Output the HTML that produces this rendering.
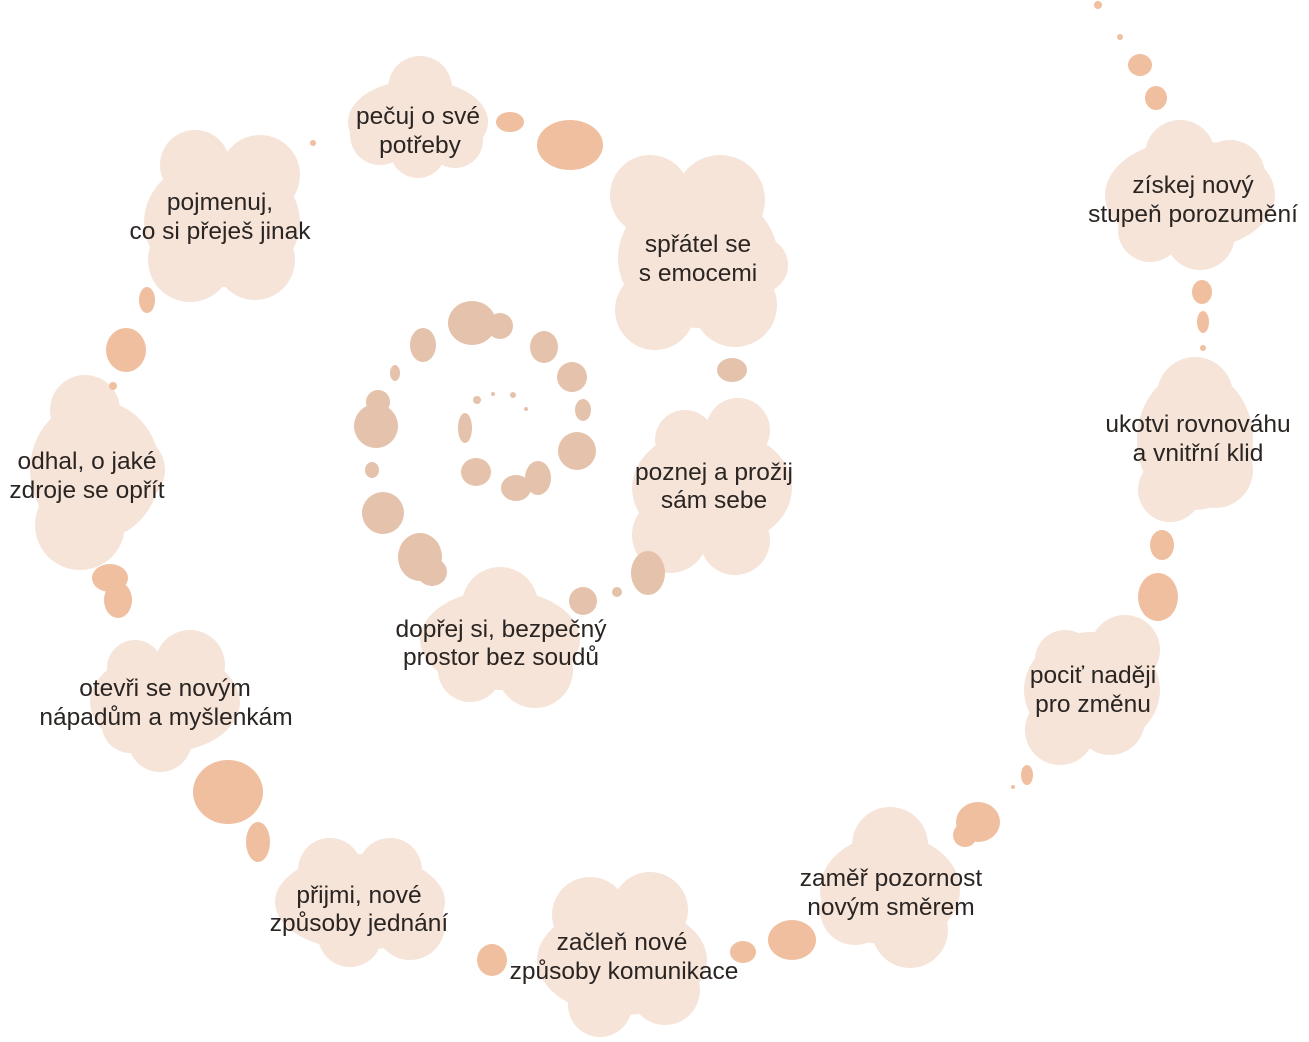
<!DOCTYPE html><html><head><meta charset="utf-8"><style>
body{margin:0;background:#fff;width:1309px;height:1042px;overflow:hidden}
svg{display:block}
text{font-family:"Liberation Sans",sans-serif;font-size:24.5px;fill:#2a2522;text-anchor:middle}
.c circle,.c ellipse{fill:#f6e4d9}
.b{fill:#efbf9f}
.g{fill:#e4c2ab}
</style></head><body>
<svg width="1309" height="1042" viewBox="0 0 1309 1042">
<g class="c">
<ellipse cx="418" cy="122" rx="70" ry="42"/><circle cx="420" cy="88" r="32"/><circle cx="380" cy="135" r="30"/><circle cx="455" cy="140" r="28"/><circle cx="418" cy="150" r="28"/>
<ellipse cx="222" cy="222" rx="78" ry="65"/><circle cx="195" cy="165" r="35"/><circle cx="260" cy="175" r="40"/><circle cx="190" cy="260" r="42"/><circle cx="255" cy="260" r="40"/>
<ellipse cx="698" cy="258" rx="80" ry="70"/><circle cx="650" cy="195" r="40"/><circle cx="720" cy="200" r="45"/><circle cx="655" cy="310" r="40"/><circle cx="735" cy="305" r="42"/><circle cx="760" cy="265" r="28"/>
<ellipse cx="712" cy="488" rx="80" ry="60"/><circle cx="738" cy="430" r="32"/><circle cx="685" cy="440" r="30"/><circle cx="670" cy="535" r="38"/><circle cx="735" cy="540" r="35"/>
<ellipse cx="95" cy="470" rx="65" ry="70"/><circle cx="85" cy="410" r="35"/><circle cx="80" cy="525" r="45"/><circle cx="130" cy="470" r="35"/>
<ellipse cx="500" cy="640" rx="80" ry="50"/><circle cx="500" cy="605" r="38"/><circle cx="470" cy="670" r="32"/><circle cx="535" cy="670" r="38"/>
<ellipse cx="165" cy="702" rx="75" ry="50"/><circle cx="190" cy="665" r="35"/><circle cx="135" cy="668" r="28"/><circle cx="160" cy="740" r="32"/><circle cx="130" cy="725" r="28"/>
<ellipse cx="360" cy="902" rx="85" ry="48"/><circle cx="330" cy="870" r="32"/><circle cx="390" cy="870" r="32"/><circle cx="350" cy="935" r="32"/><circle cx="410" cy="925" r="35"/>
<ellipse cx="622" cy="960" rx="85" ry="55"/><circle cx="590" cy="915" r="38"/><circle cx="650" cy="910" r="38"/><circle cx="600" cy="1005" r="32"/><circle cx="665" cy="990" r="35"/>
<ellipse cx="890" cy="890" rx="70" ry="55"/><circle cx="890" cy="845" r="38"/><circle cx="855" cy="910" r="35"/><circle cx="910" cy="930" r="38"/>
<ellipse cx="1092" cy="690" rx="68" ry="58"/><circle cx="1125" cy="650" r="35"/><circle cx="1065" cy="660" r="30"/><circle cx="1060" cy="730" r="35"/><circle cx="1110" cy="720" r="35"/>
<ellipse cx="1195" cy="440" rx="58" ry="70"/><circle cx="1195" cy="395" r="38"/><circle cx="1170" cy="490" r="32"/><circle cx="1215" cy="470" r="38"/>
<ellipse cx="1190" cy="195" rx="85" ry="55"/><circle cx="1180" cy="155" r="35"/><circle cx="1230" cy="175" r="35"/><circle cx="1150" cy="230" r="32"/><circle cx="1200" cy="235" r="35"/>
</g>
<g class="b">
<ellipse cx="510" cy="122" rx="14" ry="10"/><ellipse cx="570" cy="145" rx="33" ry="25"/>
<ellipse cx="126" cy="350" rx="20" ry="22"/><ellipse cx="147" cy="300" rx="8" ry="13"/><circle cx="113" cy="386" r="4"/>
<ellipse cx="110" cy="578" rx="18" ry="14"/><ellipse cx="118" cy="600" rx="14" ry="18"/>
<ellipse cx="228" cy="792" rx="35" ry="32"/><ellipse cx="258" cy="842" rx="12" ry="20"/>
<ellipse cx="492" cy="960" rx="15" ry="16"/><ellipse cx="743" cy="952" rx="13" ry="11"/><ellipse cx="792" cy="940" rx="24" ry="20"/>
<ellipse cx="978" cy="822" rx="22" ry="20"/><ellipse cx="965" cy="835" rx="12" ry="12"/><ellipse cx="1027" cy="775" rx="6" ry="10"/><circle cx="1013" cy="787" r="2"/>
<ellipse cx="1162" cy="545" rx="12" ry="15"/><ellipse cx="1158" cy="597" rx="20" ry="24"/>
<ellipse cx="1202" cy="292" rx="10" ry="12"/><ellipse cx="1203" cy="322" rx="6" ry="11"/><circle cx="1203" cy="348" r="3"/>
<ellipse cx="1140" cy="65" rx="12" ry="11"/><ellipse cx="1156" cy="98" rx="11" ry="12"/><circle cx="1120" cy="37" r="3"/><circle cx="1098" cy="5" r="4"/><circle cx="313" cy="143" r="3"/>
</g>
<g class="g">
<ellipse cx="472" cy="323" rx="24" ry="22"/><circle cx="500" cy="326" r="13"/>
<ellipse cx="423" cy="345" rx="13" ry="17"/><ellipse cx="544" cy="347" rx="14" ry="16"/>
<circle cx="572" cy="377" r="15"/><ellipse cx="583" cy="410" rx="8" ry="11"/><circle cx="577" cy="451" r="19"/>
<ellipse cx="538" cy="478" rx="13" ry="17"/><ellipse cx="516" cy="488" rx="15" ry="13"/>
<ellipse cx="476" cy="472" rx="15" ry="14"/><ellipse cx="465" cy="428" rx="7" ry="15"/>
<circle cx="376" cy="426" r="22"/><circle cx="378" cy="402" r="12"/><ellipse cx="395" cy="373" rx="5" ry="8"/>
<ellipse cx="372" cy="470" rx="7" ry="8"/><ellipse cx="383" cy="513" rx="21" ry="21"/>
<ellipse cx="420" cy="557" rx="22" ry="24"/><ellipse cx="432" cy="572" rx="15" ry="14"/>
<circle cx="477" cy="400" r="4"/><circle cx="493" cy="394" r="2"/><circle cx="513" cy="395" r="3"/><circle cx="526" cy="409" r="2"/>
<circle cx="583" cy="601" r="14"/><circle cx="617" cy="592" r="5"/><ellipse cx="648" cy="573" rx="17" ry="22"/>
<ellipse cx="732" cy="370" rx="15" ry="12"/>
</g>
<text x="418" y="124">pečuj o své</text><text x="420" y="153">potřeby</text>
<text x="220" y="210">pojmenuj,</text><text x="220" y="239">co si přeješ jinak</text>
<text x="698" y="252">spřátel se</text><text x="698" y="281">s emocemi</text>
<text x="714" y="480">poznej a prožij</text><text x="714" y="508">sám sebe</text>
<text x="87" y="469">odhal, o jaké</text><text x="87" y="498">zdroje se opřít</text>
<text x="501" y="637">dopřej si, bezpečný</text><text x="501" y="665">prostor bez soudů</text>
<text x="165" y="696">otevři se novým</text><text x="166" y="725">nápadům a myšlenkám</text>
<text x="359" y="903">přijmi, nové</text><text x="359" y="931">způsoby jednání</text>
<text x="622" y="950">začleň nové</text><text x="624" y="979">způsoby komunikace</text>
<text x="891" y="886">zaměř pozornost</text><text x="891" y="915">novým směrem</text>
<text x="1093" y="683">pociť naději</text><text x="1093" y="712">pro změnu</text>
<text x="1198" y="432">ukotvi rovnováhu</text><text x="1198" y="461">a vnitřní klid</text>
<text x="1193" y="193">získej nový</text><text x="1193" y="222">stupeň porozumění</text>
</svg>
</body></html>
